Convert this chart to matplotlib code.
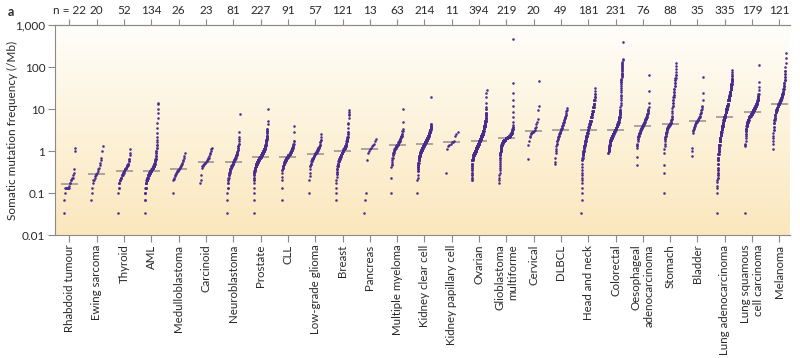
import numpy as np
import matplotlib
matplotlib.use("Agg")
import matplotlib.pyplot as plt
from matplotlib.colors import LinearSegmentedColormap
from matplotlib.ticker import NullLocator

plt.rcParams['font.family'] = ['Lato', 'DejaVu Sans']

categories = ["Rhabdoid tumour", "Ewing sarcoma", "Thyroid", "AML", "Medulloblastoma",
              "Carcinoid", "Neuroblastoma", "Prostate", "CLL", "Low-grade glioma",
              "Breast", "Pancreas", "Multiple myeloma", "Kidney clear cell",
              "Kidney papillary cell", "Ovarian", "Glioblastoma\nmultiforme", "Cervical",
              "DLBCL", "Head and neck", "Colorectal", "Oesophageal\nadenocarcinoma",
              "Stomach", "Bladder", "Lung adenocarcinoma", "Lung squamous\ncell carcinoma",
              "Melanoma"]
n_samples = [22, 20, 52, 134, 26, 23, 81, 227, 91, 57, 121, 13, 63, 214, 11, 394, 219,
             20, 49, 181, 231, 76, 88, 35, 335, 179, 121]
y_ticks = [0.01, 0.1, 1, 10, 100, 1000]
y_tick_labels = ["0.01", "0.1", "1", "10", "100", "1,000"]

# mutation frequencies (/Mb); (value, count) = value repeated count times
rhabdoid = [0.033, 0.067, 0.1, (0.13, 7), 0.15, (0.17, 2), (0.2, 2), (0.23, 2), 0.27, 0.3, 0.37, 1.0, 1.2]
ewing = [0.067, 0.1, 0.13, 0.17, (0.2, 2), 0.23, 0.25, 0.27, 0.28, 0.3, 0.33, 0.37, 0.4, 0.47, 0.53, 0.6, 0.7, 1.0, 1.3]
thyroid = [0.033, 0.1, (0.13, 2), (0.17, 3), (0.2, 4), (0.23, 4), (0.27, 5), (0.3, 5), (0.33, 3), (0.37, 4),
           (0.4, 4), (0.43, 3), (0.47, 3), (0.5, 3), (0.57, 2), (0.63, 2), 0.8, 0.9, 1.1]
aml = [0.033, (0.067, 2), (0.1, 3), (0.13, 4), (0.17, 6), (0.2, 8), (0.23, 8), (0.27, 10), (0.3, 12),
       (0.33, 13), (0.37, 10), (0.4, 9), (0.45, 8), (0.5, 7), (0.57, 6), (0.65, 4), (0.75, 3), (0.9, 2),
       (1.0, 2), (1.2, 2), (1.4, 2), 1.6, 1.8, 2.2, 2.7, 3.6, 4.6, 6.0, 7.9, 10, 12.9, 13.6]
medulloblastoma = [0.1, 0.2, 0.22, 0.23, 0.25, 0.27, 0.28, 0.3, 0.31, 0.33, 0.34, 0.35, 0.36, 0.37, 0.38,
                   0.4, 0.42, 0.44, 0.47, 0.5, 0.53, 0.57, 0.6, 0.67, 0.75, 0.88]
carcinoid = [0.17, 0.2, 0.27, 0.4, 0.43, 0.45, 0.47, 0.5, 0.5, 0.52, 0.53, 0.55, 0.57, 0.6, 0.63, 0.67,
             0.7, 0.77, 0.83, 0.9, 1.0, 1.1, 1.2]
neuroblastoma = [0.033, 0.067, 0.1, (0.13, 2), (0.17, 2), (0.2, 2), (0.23, 2), (0.27, 3), (0.3, 3), (0.33, 3),
                 (0.37, 3), (0.4, 4), (0.43, 4), (0.47, 4), (0.5, 4), (0.55, 4), (0.6, 5), (0.65, 4), (0.7, 4),
                 (0.75, 3), (0.8, 3), (0.87, 3), (0.95, 3), (1.05, 2), (1.15, 2), (1.3, 2), (1.5, 2), 1.7, 1.9,
                 2.2, 2.8, 7.5]
prostate = [0.033, 0.067, 0.1, 0.13, 0.17, (0.2, 2), (0.23, 2), (0.27, 2), (0.3, 3), (0.33, 4), (0.37, 6),
            (0.4, 8), (0.45, 10), (0.5, 12), (0.55, 14), (0.6, 16), (0.67, 18), (0.73, 18), (0.8, 18),
            (0.9, 16), (1.0, 14), (1.1, 12), (1.25, 10), (1.4, 8), (1.6, 6), (1.8, 5), (2.0, 4), (2.3, 4),
            (2.7, 2), (3.0, 3), (3.3, 2), 4.3, 5.2, 10]
cll = [0.067, 0.13, 0.2, 0.24, 0.3, (0.35, 2), (0.4, 3), (0.45, 4), (0.5, 5), (0.55, 6), (0.6, 7), (0.67, 8),
       (0.73, 6), (0.8, 10), (0.87, 7), (0.95, 7), (1.05, 6), (1.15, 5), (1.3, 4), (1.5, 2), (1.7, 2), 2.9, 4.0]
low_grade_glioma = [0.1, 0.2, 0.25, 0.3, 0.37, (0.45, 2), (0.5, 3), (0.57, 3), (0.63, 4), (0.7, 4), (0.77, 4),
                    (0.83, 4), (0.9, 4), (0.97, 4), (1.05, 4), (1.15, 4), (1.25, 3), (1.4, 3), (1.6, 2),
                    (1.8, 2), 2.1, 2.6]
breast = [0.067, 0.1, 0.13, 0.17, 0.2, 0.24, (0.28, 2), (0.32, 2), (0.37, 3), (0.43, 4), (0.5, 5), (0.57, 6),
          (0.65, 7), (0.73, 8), (0.82, 8), (0.9, 9), (1.0, 9), (1.1, 8), (1.2, 7), (1.35, 7), (1.5, 6),
          (1.7, 5), (1.9, 4), (2.2, 3), (2.5, 2), (2.9, 2), 3.5, 4.3, 4.7, 6.0, 7.2, 7.8, 8.6, 9.4]
pancreas = [0.033, 0.067, 0.1, 0.6, 0.9, 1.0, 1.1, 1.2, 1.3, 1.4, 1.5, 1.7, 1.9]
multiple_myeloma = [0.1, 0.23, 0.42, 0.47, 0.5, 0.55, 0.6, (0.7, 2), (0.8, 2), (0.9, 3), (1.0, 3), (1.1, 4),
                    (1.2, 4), (1.3, 5), (1.4, 4), (1.5, 4), (1.6, 4), (1.75, 4), (1.9, 3), (2.1, 4), (2.3, 3),
                    (2.6, 2), (3.0, 2), 3.3, 4.9, 10.2]
kidney_clear_cell = [0.1, 0.2, 0.23, 0.27, (0.33, 2), (0.37, 2), (0.42, 3), (0.47, 3), (0.53, 4), (0.6, 5),
                     (0.67, 6), (0.75, 7), (0.85, 9), (0.95, 11), (1.05, 12), (1.15, 13), (1.3, 15),
                     (1.45, 16), (1.6, 17), (1.8, 16), (2.0, 14), (2.25, 13), (2.5, 11), (2.8, 9), (3.1, 8),
                     (3.5, 6), (3.9, 4), (4.3, 2), 19]
kidney_papillary = [0.3, 1.1, 1.3, 1.4, 1.5, 1.6, 1.6, 1.7, 2.3, 2.6, 2.9]
ovarian = [(0.2, 2), (0.23, 2), (0.27, 2), (0.3, 2), (0.35, 2), (0.4, 2), (0.45, 2), (0.5, 4), (0.6, 10),
           (0.7, 18), (0.8, 22), (0.9, 24), (1.0, 24), (1.15, 26), (1.3, 26), (1.5, 28), (1.7, 28),
           (1.95, 26), (2.25, 24), (2.6, 22), (3.0, 20), (3.5, 18), (4.0, 16), (4.6, 12), (5.3, 10),
           (6.2, 7), (7.2, 5), (8.0, 3), (10, 2), 11.3, 14, 19, 23.7, 28]
glioblastoma = [0.17, 0.2, 0.23, 0.27, 0.3, 0.35, 0.4, 0.45, 0.5, 0.55, 0.6, (0.7, 2), (0.8, 3), (0.9, 3),
                (1.0, 4), (1.1, 4), (1.25, 6), (1.4, 8), (1.55, 12), (1.7, 18), (1.85, 26), (2.0, 30),
                (2.15, 26), (2.3, 20), (2.5, 14), (2.75, 10), (3.0, 7), (3.3, 4), (3.7, 2), 4.2, 5.0, 6.6,
                8.5, 11.8, 16, 23.7, 41, 465]
cervical = [0.65, 1.4, 1.7, 2.1, 2.3, 2.5, 2.7, 2.8, 2.9, 2.9, 3.0, 3.2, 3.5, 3.8, 4.5, 5.0, 5.7, 9.4, 11.8, 46]
dlbcl = [0.5, 0.55, 0.7, 0.88, 1.0, 1.1, 1.3, (1.5, 2), (1.7, 2), (1.9, 2), (2.1, 2), (2.3, 2), (2.5, 2),
         (2.7, 2), (2.9, 2), (3.1, 2), (3.3, 2), (3.6, 2), (3.9, 2), (4.2, 2), (4.6, 2), (5.0, 2), (5.5, 2),
         (6.0, 2), (6.6, 2), (7.3, 2), 8.0, 8.8, 9.6, 10.4]
head_and_neck = [0.033, 0.067, 0.1, 0.13, 0.17, 0.2, 0.23, 0.27, 0.3, 0.35, 0.42, 0.5, (0.6, 2), (0.7, 3),
                 (0.8, 4), (0.9, 5), (1.0, 5), (1.15, 5), (1.3, 6), (1.5, 7), (1.7, 8), (2.0, 8), (2.3, 9),
                 (2.7, 9), (3.2, 10), (3.8, 11), (4.5, 11), (5.3, 11), (6.3, 10), (7.5, 10), (9, 9), (11, 8),
                 (13, 6), (16, 5), (19, 3), (23, 2), 27, 31]
colorectal = [(0.9, 2), (1.0, 4), (1.1, 5), (1.25, 6), (1.4, 7), (1.6, 8), (1.8, 10), (2.0, 12), (2.25, 14),
              (2.5, 16), (2.8, 16), (3.2, 16), (3.5, 15), (3.9, 14), (4.4, 12), (5.0, 10), (5.7, 9),
              (6.5, 7), (7.5, 5), (8.5, 4), (9.5, 3), 11, 12.5, 14, 16, 18, 20, 22, 25, 28, 31, 35, 39,
              43, 45, 48, 50, 53, 58, 60, 63, 68, 70, 73, 79, 85, 91, 97, 100, 104, 111, 118, 125, 135,
              145, 155, 400]
oesophageal = [0.46, 0.73, 1.2, 1.3, 1.4, 1.5, 1.7, (1.9, 2), (2.1, 2), (2.3, 3), (2.5, 3), (2.7, 3),
               (2.9, 3), (3.1, 3), (3.3, 3), (3.5, 3), (3.7, 3), (3.9, 3), (4.1, 3), (4.4, 3), (4.7, 3),
               (5.0, 3), (5.4, 3), (5.8, 3), (6.2, 3), (6.6, 3), (7.1, 2), (7.6, 2), (8.2, 2), (8.8, 2),
               9.4, 10, 11, 14, 27, 63]
stomach = [0.1, 0.3, 0.46, 0.88, 1.1, 1.3, 1.5, 1.7, (1.9, 2), (2.1, 2), (2.3, 2), (2.5, 2), (2.7, 2),
           (2.9, 2), (3.1, 2), (3.3, 2), (3.5, 3), (3.7, 4), (3.9, 5), (4.1, 5), (4.4, 5), (4.7, 3),
           (5.0, 2), (5.4, 2), (5.8, 2), 6.3, 7, 8, 9, 10.4, (12, 2), (14, 2), (16, 2), (19, 2), (22, 2),
           (26, 2), (30, 2), (35, 2), (41, 2), (48, 2), (56, 2), (65, 2), 75, 88, 105, 122]
bladder = [0.77, 1.0, 1.17, 2.75, 3.0, 3.2, 3.4, 3.6, 3.8, 4.0, 4.2, 4.4, 4.6, 4.8, 4.9, 5.0, 5.1, 5.2, 5.4,
           5.6, 5.8, 6.0, 6.3, 6.6, 7.0, 7.5, 8.0, 8.7, 9.4, 10, 11, 12, 16.4, 24.4, 57]
lung_adeno = [0.033, 0.1, 0.13, 0.15, 0.18, 0.2, (0.23, 2), (0.27, 2), (0.3, 2), (0.35, 2), (0.4, 2),
              (0.5, 3), (0.6, 3), (0.7, 4), (0.85, 5), (1.0, 6), (1.2, 7), (1.4, 9), (1.7, 10), (2.0, 10),
              (2.4, 11), (2.8, 12), (3.3, 13), (3.9, 14), (4.6, 15), (5.4, 15), (6.3, 16), (7.3, 15),
              (8.5, 15), (10, 16), (11.5, 15), (13.5, 15), (16, 14), (19, 13), (22, 12), (26, 11),
              (30, 10), (35, 9), (40, 7), (46, 5), (53, 4), (60, 2), 68, 77, 84]
lung_squamous = [0.033, 1.3, 1.4, 1.5, 1.7, 2.0, 2.3, (2.6, 2), (3.0, 3), (3.4, 4), (3.9, 5), (4.4, 6),
                 (5.0, 8), (5.6, 10), (6.3, 12), (7.0, 14), (7.8, 16), (8.6, 16), (9.5, 15), (10.5, 13),
                 (11.5, 11), (13, 10), (14.5, 8), (16, 6), (18, 4), (20, 3), (23, 2), 28, 34, 45, 112]
melanoma = [1.1, 1.5, 1.7, 2.0, 2.3, 2.7, (3.2, 2), (3.8, 2), (4.6, 3), (5.4, 3), (6.2, 4), (7.2, 5),
            (8.3, 5), (9.5, 6), (10.8, 7), (12, 8), (13.2, 10), (14.5, 7), (16, 7), (18, 6), (20, 6),
            (23, 5), (26, 5), (30, 4), (35, 4), (41, 3), (48, 3), (57, 2), (68, 2), (80, 2), 100, 125,
            160, 212]

samples = [rhabdoid, ewing, thyroid, aml, medulloblastoma, carcinoid, neuroblastoma, prostate, cll,
           low_grade_glioma, breast, pancreas, multiple_myeloma, kidney_clear_cell, kidney_papillary,
           ovarian, glioblastoma, cervical, dlbcl, head_and_neck, colorectal, oesophageal, stomach,
           bladder, lung_adeno, lung_squamous, melanoma]


def expand(spec):
    out = []
    for item in spec:
        if isinstance(item, tuple):
            out.extend([item[0]] * item[1])
        else:
            out.append(item)
    return np.sort(np.array(out, dtype=float))


W, H = 800, 358
fig = plt.figure(figsize=(W / 100, H / 100), dpi=100)
rect = [55 / W, 123 / H, 735 / W, 210 / H]

# background gradient
bg = fig.add_axes(rect, zorder=0)
cmap = LinearSegmentedColormap.from_list("bg", ["#fbe7bd", "#fdf2da", "#fffefb"])
bg.imshow(np.linspace(0, 1, 256).reshape(-1, 1), cmap=cmap, aspect="auto",
          extent=[0, 1, 0, 1], origin="lower")
bg.set_axis_off()

ax = fig.add_axes(rect, zorder=1)
ax.patch.set_alpha(0)

dot_color = "#4a2a8c"
for i, spec in enumerate(samples):
    vals = expand(spec)
    n = len(vals)
    w = 0.42 + 0.13 * min(1.0, n / 300)
    xs = i + (np.arange(n) / max(n - 1, 1) - 0.5) * w
    med = np.median(vals)
    ax.plot([i - 0.31, i + 0.31], [med, med], color="#a39e96", lw=1.3, zorder=2,
            solid_capstyle="butt")
    ax.scatter(xs, vals, s=3.4, color=dot_color, linewidths=0, zorder=3)

ax.set_yscale("log")
ax.set_ylim(0.01, 1000)
ax.set_yticks(y_ticks, labels=y_tick_labels)
ax.yaxis.set_minor_locator(NullLocator())
ax.set_xlim(-0.53, 26.39)
ax.set_xticks(range(len(categories)), labels=categories, rotation=90, ha="center", va="top")
for t in ax.get_xticklabels():
    t.set_multialignment("right")

spine_c = "#8a8a8a"
text_c = "#2b2728"
ax.spines["right"].set_visible(False)
for s in ["left", "bottom", "top"]:
    ax.spines[s].set_color(spine_c)
    ax.spines[s].set_linewidth(0.8)
ax.tick_params(axis="x", direction="out", length=5, width=0.8, color=spine_c, pad=2,
               labelsize=8.3, labelcolor=text_c)
ax.tick_params(axis="y", direction="out", length=5, width=0.8, color=spine_c, pad=2,
               labelsize=8.5, labelcolor=text_c)
ax.set_ylabel("Somatic mutation frequency (/Mb)", fontsize=8.5, color=text_c)
ax.yaxis.set_label_coords(-0.051, 0.5)

top = ax.secondary_xaxis("top")
top.set_xticks(range(len(categories)),
               labels=["n = %d" % n_samples[0]] + [str(v) for v in n_samples[1:]])
top.tick_params(direction="out", length=4, width=0.8, color=spine_c, pad=2.5,
                labelsize=8.5, labelcolor=text_c)
top.spines["top"].set_color(spine_c)
top.spines["top"].set_linewidth(0.8)

fig.text(8 / W, 1 - 12 / H, "a", fontsize=9, fontweight="bold", color=text_c, va="center")

fig.savefig("out.png", dpi=100)
